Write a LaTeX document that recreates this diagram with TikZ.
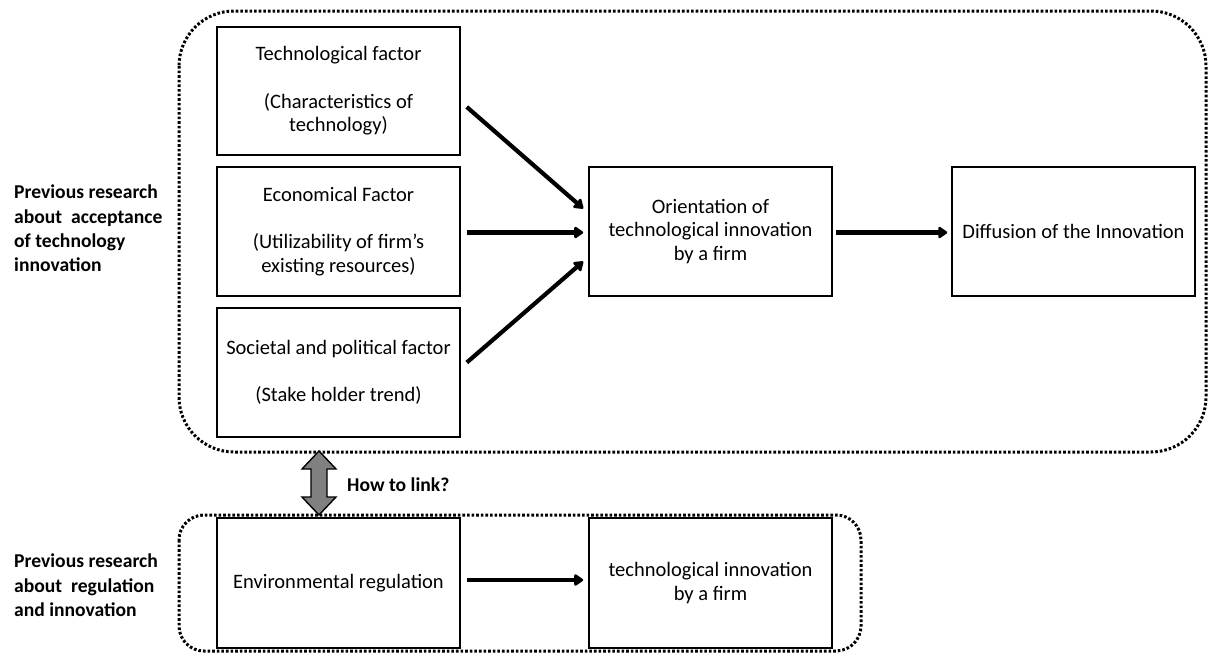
\documentclass[tikz,border=0pt]{standalone}
\usepackage{fontspec}
\setmainfont{Carlito}
\usetikzlibrary{arrows.meta,calc}
\begin{document}
\begin{tikzpicture}[x=1pt,y=-1pt,
  box/.style={draw,line width=1.6pt,align=center,anchor=center,inner sep=0pt,
    font=\fontsize{20.5}{23.6}\selectfont},
  grp/.style={line width=3pt,dash pattern=on 2.6pt off 2pt},
  flow/.style={line width=4.2pt,-{Triangle[length=10pt,width=13pt,round]}},
  side/.style={align=left,anchor=north west,inner sep=0pt,
    font=\bfseries\fontsize{19.6}{24.3}\selectfont}]
\useasboundingbox (0,0) rectangle (1211,653);
% group outlines
\draw[grp,rounded corners=55pt] (179,11) rectangle (1206,452);
\draw[grp,rounded corners=25pt] (179,515) rectangle (861,651);
% boxes
\node[box,minimum width=243pt,minimum height=128pt] (tech) at (338.5,91)
  {Technological factor\\[23.6pt](Characteristics of\\technology)};
\node[box,minimum width=243pt,minimum height=129pt] (econ) at (338.5,231.5)
  {Economical Factor\\[23.6pt](Utilizability of firm’s\\existing resources)};
\node[box,minimum width=243pt,minimum height=129pt] (soc) at (338.5,372.5)
  {Societal and political factor\\[23.6pt](Stake holder trend)};
\node[box,minimum width=243pt,minimum height=129pt] (orient) at (710.5,231.5)
  {Orientation of\\technological innovation\\by a firm};
\node[box,minimum width=243pt,minimum height=129pt] (diff) at (1073.5,231.5)
  {Diffusion of the Innovation};
\node[box,minimum width=243pt,minimum height=130pt] (env) at (338.5,583)
  {Environmental regulation};
\node[box,minimum width=243pt,minimum height=130pt] (tin) at (710.5,583)
  {technological innovation\\by a firm};
% side labels
\node[side] (lab1) at (14,185) {Previous research\\about\ \ acceptance\\of technology\\innovation};
\node[side] (lab2) at (14,554) {Previous research\\about\ \ regulation\\and innovation};
\node[anchor=west,inner sep=0pt,font=\bfseries\fontsize{19.6}{22}\selectfont] (how) at (347,485) {How to link?};
% arrows
\draw[flow] ([xshift=6pt,yshift=-16pt]tech.east) -- ([xshift=-5pt,yshift=23pt]orient.west);
\draw[flow] ([xshift=6pt,yshift=-1pt]econ.east) -- ([xshift=-5pt,yshift=-1pt]orient.west);
\draw[flow] ([xshift=6pt,yshift=10pt]soc.east) -- ([xshift=-5pt,yshift=-30pt]orient.west);
\draw[flow] ([xshift=3pt,yshift=-1pt]orient.east) -- ([xshift=-4pt,yshift=-1pt]diff.west);
\draw[flow] ([xshift=6pt,yshift=3pt]env.east) -- ([xshift=-5pt,yshift=3pt]tin.west);
% double arrow
\draw[line width=1.4pt,fill=gray] (319,451) -- (336,469) -- (327,469) -- (327,497) -- (336,497)
  -- (319,515) -- (302,497) -- (311,497) -- (311,469) -- (302,469) -- cycle;
\end{tikzpicture}
\end{document}
